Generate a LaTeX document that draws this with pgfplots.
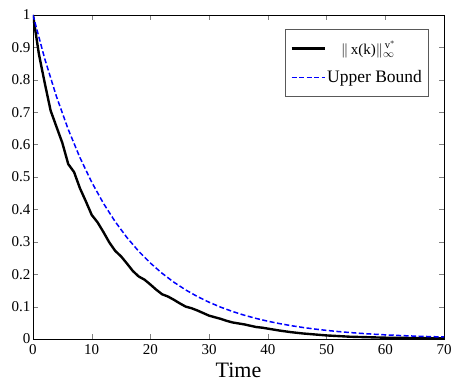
\documentclass[border=0pt]{standalone}
\usepackage{fontspec}
\setmainfont{Liberation Serif}
\usepackage{pgfplots}
\pgfplotsset{compat=1.18}
\begin{document}
\begin{tikzpicture}
\begin{axis}[
  scale only axis,
  width=411bp, height=324bp,
  xmin=0, xmax=70, ymin=0, ymax=1,
  xtick={0,10,...,70},
  xticklabels={0,10,20,30,40,50,60,70},
  ytick={0,0.1,...,1},
  yticklabels={0,0.1,0.2,0.3,0.4,0.5,0.6,0.7,0.8,0.9,1},
  /pgf/number format/assume math mode=true,
  tick label style={font=\rmfamily\fontsize{15bp}{16bp}\selectfont},
  xticklabel style={yshift=-2bp},
  yticklabel style={xshift=1bp},
  xlabel={Time},
  xlabel style={font=\rmfamily\fontsize{22bp}{22bp}\selectfont, yshift=-1bp},
  tick align=inside,
  major tick length=5bp,
  axis line style={black, line width=0.6pt},
  legend style={at={(rel axis cs:0.963,0.957)}, anchor=north east,
    draw=gray!70!black, line width=0.6pt, font=\rmfamily\fontsize{17.5bp}{18bp}\selectfont,
    row sep=11bp, inner xsep=5bp, inner ysep=10bp,
    nodes={inner xsep=1.5bp}},
  legend cell align=left,
  legend image code/.code={\draw[#1] (0bp,0bp) -- (33bp,0bp);},
]
\addplot[black, line width=2.4pt] coordinates {
(0,1) (1,0.88) (2,0.79) (3,0.705) (4,0.655) (5,0.605) (6,0.54) (7,0.515)
(8,0.465) (9,0.425) (10,0.383) (11,0.36) (12,0.33) (13,0.298) (14,0.272)
(15,0.255) (16,0.233) (17,0.21) (18,0.193) (19,0.183) (20,0.168) (21,0.152)
(22,0.138) (23,0.131) (24,0.121) (25,0.11) (26,0.1) (27,0.095) (28,0.088)
(29,0.08) (30,0.072) (31,0.067) (32,0.062) (33,0.056) (34,0.051) (35,0.048)
(36,0.045) (37,0.041) (38,0.037) (39,0.035) (40,0.032) (42,0.026) (44,0.021)
(46,0.017) (48,0.014) (50,0.011) (52,0.009) (54,0.007) (56,0.006) (58,0.005)
(60,0.004) (65,0.003) (70,0.002)
};
\addlegendentry{\hspace{14bp}{\fontsize{15bp}{16bp}\selectfont$\|$\,x(k)$\|_{\infty}^{\,\mathrm{v}^{*}}$}}
\addplot[blue, line width=1.5pt, dash pattern=on 5bp off 2.5bp] coordinates {
(0,1) (2,0.8649) (4,0.74805) (6,0.64699) (8,0.55960) (10,0.48398) (12,0.41860)
(14,0.36205) (16,0.31313) (18,0.27083) (20,0.23424) (22,0.20259) (24,0.17522)
(26,0.15155) (28,0.13108) (30,0.11337) (32,0.09805) (34,0.08481) (36,0.07335)
(38,0.06344) (40,0.05487) (42,0.04746) (44,0.04104) (46,0.03550) (48,0.03070)
(50,0.02656) (52,0.02297) (54,0.01987) (56,0.01718) (58,0.01486) (60,0.01285)
(62,0.01112) (64,0.00962) (66,0.00832) (68,0.00719) (70,0.00622)
};
\addlegendentry{Upper Bound\hspace{6bp}}
\end{axis}
\useasboundingbox (current axis.south west) ++(-33bp,-43bp) rectangle ([xshift=13bp,yshift=15bp]current axis.north east);
\end{tikzpicture}
\end{document}
